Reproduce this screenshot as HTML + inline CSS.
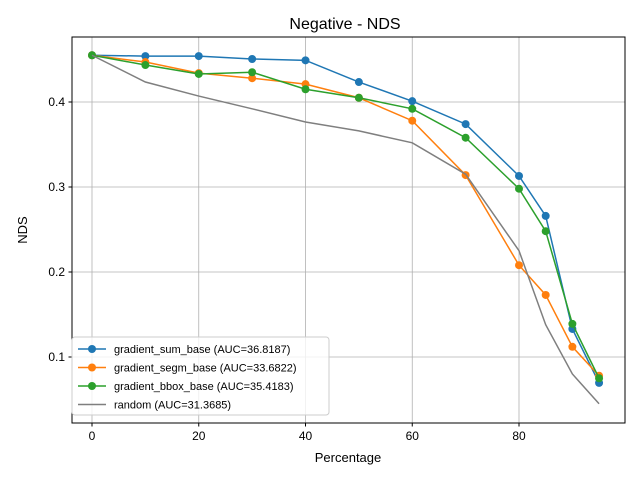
<!DOCTYPE html>
<html><head><meta charset="utf-8"><style>
body{margin:0;background:#fff;font-family:"Liberation Sans","DejaVu Sans",sans-serif}
</style></head><body>
<svg id="c" width="640" height="480" xmlns="http://www.w3.org/2000/svg">
<rect width="640" height="480" fill="#fff"/>
<text x="345" y="29" font-size="16" text-anchor="middle">Negative - NDS</text>
<g id="grid"></g>
<g id="series"></g>
<rect x="72" y="37" width="553" height="386" fill="none" stroke="#000" stroke-width="1"/>
<g id="axes" font-size="12"></g>
<text x="348" y="462" font-size="13" text-anchor="middle">Percentage</text>
<text x="27" y="230" font-size="13" text-anchor="middle" transform="rotate(-90 27 230)">NDS</text>
<g id="legend"></g>
</svg>
<script>
const xs=[0,10,20,30,40,50,60,70,80,85,90,95];
const sumBase=[0.455,0.454,0.454,0.4506,0.449,0.4235,0.401,0.374,0.313,0.266,0.133,0.0695];
const segmBase=[0.455,0.447,0.434,0.428,0.421,0.405,0.378,0.314,0.208,0.173,0.112,0.078];
const bboxBase=[0.455,0.4435,0.433,0.435,0.415,0.405,0.392,0.358,0.298,0.248,0.139,0.075];
const randomVals=[0.455,0.4235,0.407,0.392,0.3765,0.366,0.352,0.315,0.225,0.138,0.080,0.045];
const xTicks=[0,20,40,60,80];
const yTicks=[0.1,0.2,0.3,0.4];
const labels=["gradient_sum_base (AUC=36.8187)","gradient_segm_base (AUC=33.6822)","gradient_bbox_base (AUC=35.4183)","random (AUC=31.3685)"];
const NS="http://www.w3.org/2000/svg";
const X=v=>92+(v-0)*(519-92)/80;
const Y=v=>102+(0.4-v)*850;
function mk(t,a,p){const e=document.createElementNS(NS,t);for(const k in a)e.setAttribute(k,a[k]);p.appendChild(e);return e;}
const grid=document.getElementById('grid'),axes=document.getElementById('axes');
xTicks.forEach(t=>{const x=X(t);
const g=mk('line',{x1:x,x2:x,y1:37,y2:423,stroke:'#b0b0b0','stroke-width':0.8},grid);

mk('line',{x1:x,x2:x,y1:423,y2:426.5,stroke:'#000'},axes);
const tx=mk('text',{x:x,y:440,'text-anchor':'middle'},axes);tx.textContent=t;
});
yTicks.forEach(t=>{const y=Y(t);
const g=mk('line',{x1:72,x2:625,y1:y,y2:y,stroke:'#b0b0b0','stroke-width':0.8},grid);

mk('line',{x1:68.5,x2:72,y1:y,y2:y,stroke:'#000'},axes);
const tx=mk('text',{x:65,y:y+4,'text-anchor':'end'},axes);tx.textContent=t.toFixed(1);
});
const ser=document.getElementById('series');
const defs=[[sumBase,'#1f77b4',true,'gradient-sum-line'],[segmBase,'#ff7f0e',true,'gradient-segm-line'],[bboxBase,'#2ca02c',true,'gradient-bbox-line'],[randomVals,'#7f7f7f',false,'random-line']];
defs.forEach(([d,c,m,n])=>{
const g=mk('g',{},ser);
mk('polyline',{points:xs.map((x,i)=>X(x)+','+Y(d[i])).join(' '),fill:'none',stroke:c,'stroke-width':1.5},g);
if(m)xs.forEach((x,i)=>{const p=mk('circle',{cx:X(x),cy:Y(d[i]),r:4,fill:c},g);
});
});
const lg=document.getElementById('legend');

mk('rect',{x:72,y:337,width:257,height:78,rx:3,fill:'#fff','fill-opacity':0.8,stroke:'#ccc'},lg);
defs.forEach(([d,c,m],i)=>{const y=349+i*18.5;
const e=mk('g',{},lg);
mk('line',{x1:78,x2:106,y1:y,y2:y,stroke:c,'stroke-width':1.5},e);
if(m)mk('circle',{cx:92,cy:y,r:4,fill:c},e);
const t=mk('text',{x:114,y:y+4,'font-size':11},e);t.textContent=labels[i];});
</script>
</body></html>
